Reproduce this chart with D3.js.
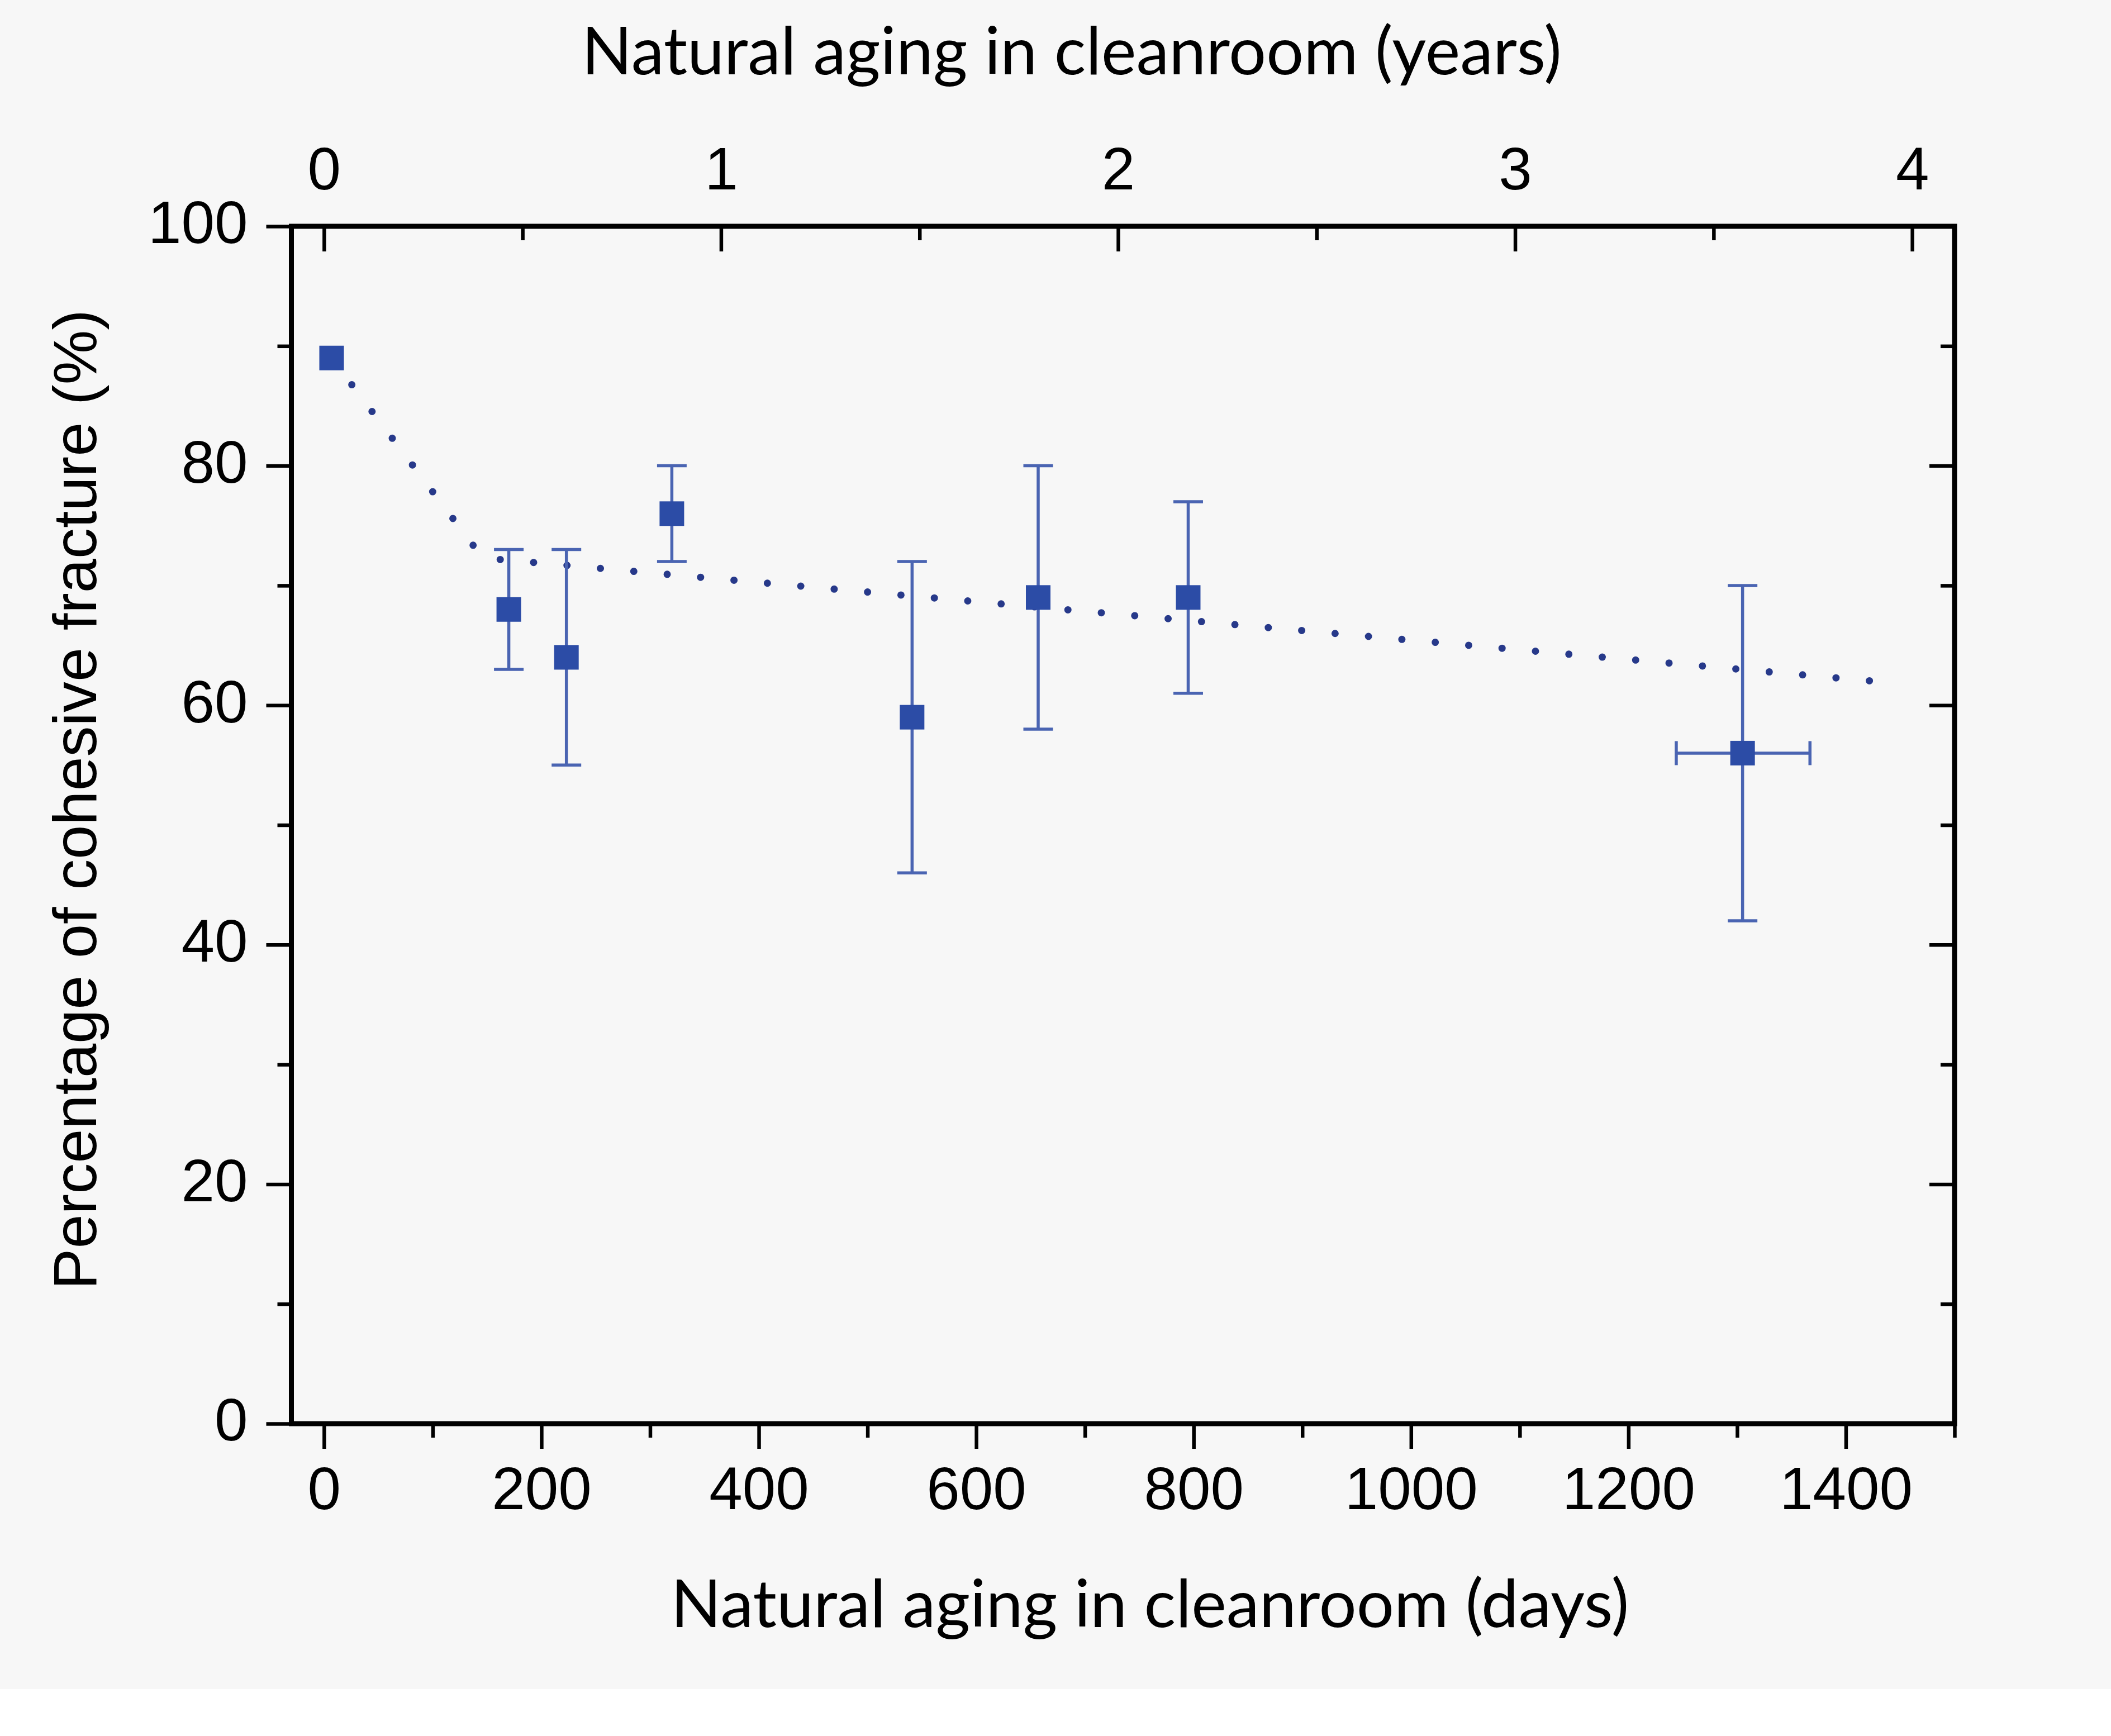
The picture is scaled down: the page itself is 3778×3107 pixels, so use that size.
<!DOCTYPE html>
<html><head><meta charset="utf-8">
<script src="https://cdn.jsdelivr.net/npm/d3@7"></script>
<style>body{margin:0;background:#fff}</style>
</head><body><svg id="c"></svg>
<script>
// ---- data ----
const days      = [7, 170, 223, 320, 541, 657, 795, 1305];
const cohesive  = [89, 68, 64, 76, 59, 69, 69, 56];
const yErrLow   = [89, 63, 55, 72, 46, 58, 61, 42];
const yErrHigh  = [89, 73, 73, 80, 72, 80, 77, 70];
const xErrLow   = [7, 170, 223, 320, 541, 657, 795, 1244];
const xErrHigh  = [7, 170, 223, 320, 541, 657, 795, 1367];
const trendDays   = [7, 146, 1427];
const trendValues = [89, 72.3, 62];
const dayTicks   = [0, 200, 400, 600, 800, 1000, 1200, 1400];
const dayMinor   = [100, 300, 500, 700, 900, 1100, 1300, 1500];
const yearTicks  = [0, 1, 2, 3, 4];
const yearMinor  = [0.5, 1.5, 2.5, 3.5];
const pctTicks   = [0, 20, 40, 60, 80, 100];
const pctMinor   = [10, 30, 50, 70, 90];
const titleTop    = "Natural aging in cleanroom (years)";
const titleBottom = "Natural aging in cleanroom (days)";
const titleLeft   = "Percentage of cohesive fracture (%)";

// ---- layout ----
const W = 3778, H = 3107;
const L = 521.5, R = 3498, T = 405, B = 2548;
const svg = d3.select("#c").attr("width", W).attr("height", H);
svg.append("rect").attr("width", W).attr("height", H).attr("fill", "#ffffff");
svg.append("rect").attr("width", W).attr("height", 3023).attr("fill", "#f7f7f7");

const x = d3.scaleLinear().domain([-30, 1500]).range([L, R]);
const xYears = d3.scaleLinear().domain([-30/365.25, 1500/365.25]).range([L, R]);
const y = d3.scaleLinear().domain([0, 100]).range([B, T]);

const tickFont = "'Liberation Sans', Arial, sans-serif";
const fs = 107;
const MAJ = 45, MIN = 25;

function styleAxis(g) {
  g.select(".domain").remove();
  g.selectAll(".tick line").attr("stroke", "#000").attr("stroke-width", 6.5);
  g.selectAll(".tick text").attr("fill", "#000").attr("font-family", tickFont).attr("font-size", fs);
}

// bottom
svg.append("g").attr("transform", `translate(0,${B})`)
  .call(d3.axisBottom(x).tickValues(dayTicks).tickSize(MAJ).tickPadding(32).tickFormat(d3.format("d")))
  .call(styleAxis);
svg.append("g").attr("transform", `translate(0,${B})`)
  .call(d3.axisBottom(x).tickValues(dayMinor).tickSize(MIN).tickFormat(""))
  .call(styleAxis);
// top (inward ticks)
svg.append("g").attr("transform", `translate(0,${T})`)
  .call(d3.axisTop(xYears).tickValues(yearTicks).tickSize(-MAJ).tickPadding(66).tickFormat(d3.format("d")))
  .call(styleAxis);
svg.append("g").attr("transform", `translate(0,${T})`)
  .call(d3.axisTop(xYears).tickValues(yearMinor).tickSize(-MIN).tickFormat(""))
  .call(styleAxis);
// left
svg.append("g").attr("transform", `translate(${L},0)`)
  .call(d3.axisLeft(y).tickValues(pctTicks).tickSize(MAJ).tickPadding(33).tickFormat(d3.format("d")))
  .call(styleAxis)
  .call(g => g.selectAll(".tick text").attr("dy", "0.28em"));
svg.append("g").attr("transform", `translate(${L},0)`)
  .call(d3.axisLeft(y).tickValues(pctMinor).tickSize(MIN).tickFormat(""))
  .call(styleAxis);
// right (inward)
svg.append("g").attr("transform", `translate(${R},0)`)
  .call(d3.axisRight(y).tickValues(pctTicks).tickSize(-MAJ).tickFormat(""))
  .call(styleAxis);
svg.append("g").attr("transform", `translate(${R},0)`)
  .call(d3.axisRight(y).tickValues(pctMinor).tickSize(-MIN).tickFormat(""))
  .call(styleAxis);

// frame
svg.append("rect").attr("x", L).attr("y", T).attr("width", R - L).attr("height", B - T)
  .attr("fill", "none").attr("stroke", "#000").attr("stroke-width", 9);

// trend (dotted)
const trend = trendDays.map((d, i) => [d, trendValues[i]]);
svg.append("path").datum(trend)
  .attr("d", d3.line().x(d => x(d[0])).y(d => y(d[1])))
  .attr("fill", "none").attr("stroke", "#27398a").attr("stroke-width", 13)
  .attr("stroke-linecap", "round").attr("stroke-dasharray", "0 60")
  .attr("stroke-dashoffset", -60);

// error bars
const errColor = "#4a64b2";
const capW = 26.5, capH = 21.5;
const eb = svg.append("g").attr("stroke", errColor).attr("stroke-width", 5.5).attr("fill", "none");
days.forEach((d, i) => {
  if (yErrHigh[i] > yErrLow[i]) {
    eb.append("line").attr("x1", x(d)).attr("x2", x(d)).attr("y1", y(yErrLow[i])).attr("y2", y(yErrHigh[i]));
    [yErrLow[i], yErrHigh[i]].forEach(v => eb.append("line")
      .attr("x1", x(d) - capW).attr("x2", x(d) + capW).attr("y1", y(v)).attr("y2", y(v)));
  }
  if (xErrHigh[i] > xErrLow[i]) {
    eb.append("line").attr("x1", x(xErrLow[i])).attr("x2", x(xErrHigh[i])).attr("y1", y(cohesive[i])).attr("y2", y(cohesive[i]));
    [xErrLow[i], xErrHigh[i]].forEach(v => eb.append("line")
      .attr("x1", x(v)).attr("x2", x(v)).attr("y1", y(cohesive[i]) - capH).attr("y2", y(cohesive[i]) + capH));
  }
});

// markers
const ms = 44;
svg.append("g").selectAll("rect").data(days).join("rect")
  .attr("x", d => x(d) - ms/2).attr("y", (d, i) => y(cohesive[i]) - ms/2)
  .attr("width", ms).attr("height", ms).attr("fill", "#2c4ca6");

// titles
function fit(t, target) {
  const w = t.node().getComputedTextLength();
  const f = +t.attr("font-size");
  t.attr("font-size", f * target / w);
}
const titleFont = "Lato, 'Open Sans', sans-serif";
const tt = svg.append("text").attr("x", 1918).attr("y", 133).attr("text-anchor", "middle")
  .attr("font-family", titleFont).attr("font-size", 110).attr("fill", "#000").text(titleTop);
fit(tt, 1754);
const tb = svg.append("text").attr("x", 2058).attr("y", 2912).attr("text-anchor", "middle")
  .attr("font-family", titleFont).attr("font-size", 110).attr("fill", "#000").text(titleBottom);
fit(tb, 1715);
const tl = svg.append("text").attr("transform", "translate(172,1431) rotate(-90)").attr("text-anchor", "middle")
  .attr("font-family", tickFont).attr("font-size", 100).attr("fill", "#000").text(titleLeft);
fit(tl, 1754);
</script>
</body></html>
